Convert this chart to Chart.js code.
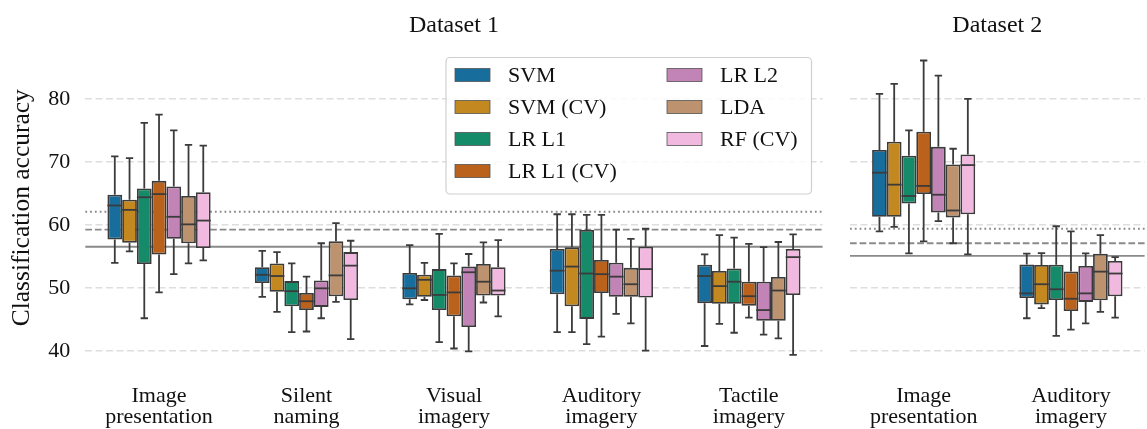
<!DOCTYPE html>
<html>
<head>
<meta charset="utf-8">
<script src="https://cdn.jsdelivr.net/npm/chart.js@4.4.1/dist/chart.umd.min.js"></script>
<style>
  html, body { margin: 0; padding: 0; background: #ffffff; }
  #wrap { position: relative; width: 1147px; height: 429px; overflow: hidden; }
  canvas { position: absolute; top: 0; }
</style>
</head>
<body>
<div id="wrap">
  <canvas id="panel1" width="832" height="429" style="left:0px"></canvas>
  <canvas id="panel2" width="307" height="429" style="left:840px"></canvas>
</div>
<script>
// Classifiers and their box colours
const methods = ['SVM', 'SVM (CV)', 'LR L1', 'LR L1 (CV)', 'LR L2', 'LDA', 'RF (CV)'];
const methodColors = ['#176d9c', '#c38820', '#168b6a', '#ba611b', '#c283b6', '#bd926e', '#f2b9e0'];

// Conditions per dataset
const categories1 = [['Image', 'presentation'], ['Silent', 'naming'], ['Visual', 'imagery'], ['Auditory', 'imagery'], ['Tactile', 'imagery']];
const categories2 = [['Image', 'presentation'], ['Auditory', 'imagery']];

const yTicks = [40, 50, 60, 70, 80];
const yRange = [37.07, 88.4];

// Dataset 1 box statistics: one row per classifier, one column per condition
const low1 = [
  [54.0, 48.6, 47.4, 43.0, 40.8],
  [55.8, 46.2, 48.1, 43.0, 44.3],
  [45.2, 43.0, 41.4, 41.1, 42.9],
  [49.3, 43.1, 40.4, 42.3, 45.3],
  [52.2, 45.2, 39.95, 45.9, 42.6],
  [53.9, 47.8, 47.7, 44.4, 42.0],
  [54.4, 41.9, 45.5, 40.05, 39.4]
];
const q1_1 = [
  [57.7, 50.8, 48.2, 49.0, 47.6],
  [57.2, 49.4, 48.6, 47.1, 47.5],
  [53.8, 47.1, 46.5, 45.1, 47.5],
  [55.3, 46.5, 45.5, 49.2, 47.2],
  [57.8, 47.0, 43.8, 48.6, 44.8],
  [57.1, 48.7, 48.8, 48.6, 44.8],
  [56.35, 48.1, 48.8, 48.5, 48.9]
];
const median1 = [
  [63.1, 52.1, 49.95, 52.75, 51.9],
  [62.4, 51.9, 51.3, 53.4, 50.3],
  [64.4, 49.5, 48.9, 52.3, 51.0],
  [64.9, 47.9, 49.3, 52.2, 48.7],
  [61.3, 49.95, 52.5, 51.8, 46.5],
  [60.1, 52.0, 51.0, 50.6, 49.6],
  [60.7, 53.55, 49.6, 53.0, 54.9]
];
const q3_1 = [
  [64.8, 53.3, 52.4, 56.2, 53.7],
  [64.0, 53.9, 52.1, 56.45, 52.7],
  [65.8, 51.1, 53.0, 59.2, 53.1],
  [67.0, 49.2, 52.0, 54.45, 51.0],
  [66.1, 51.2, 53.4, 54.0, 51.0],
  [64.6, 57.4, 53.8, 53.2, 51.75],
  [65.2, 55.7, 53.3, 56.55, 56.2]
];
const high1 = [
  [70.9, 55.9, 56.8, 61.7, 55.35],
  [70.6, 55.7, 54.0, 61.7, 58.4],
  [76.2, 53.9, 58.6, 61.6, 58.0],
  [77.5, 51.8, 53.9, 61.6, 57.0],
  [75.0, 57.1, 55.4, 59.25, 56.5],
  [72.7, 60.3, 57.25, 57.8, 57.3],
  [72.6, 57.5, 57.6, 59.4, 58.5]
];

// Dataset 2 box statistics
const low2 = [[59.0, 45.2], [59.7, 46.8], [55.5, 42.4], [57.4, 43.4], [60.6, 44.4], [57.1, 46.2], [55.35, 45.3]];
const q1_2 = [[61.3, 48.4], [61.3, 47.4], [63.4, 48.1], [64.9, 46.35], [62.0, 47.8], [61.2, 48.05], [61.7, 48.7]];
const median2 = [[68.3, 49.15], [66.4, 50.6], [64.6, 49.8], [66.2, 48.3], [64.8, 49.15], [62.3, 52.6], [69.5, 52.3]];
const q3_2 = [[71.9, 53.75], [73.2, 53.65], [71.0, 53.7], [74.8, 52.6], [72.4, 53.5], [69.6, 55.45], [71.2, 54.3]];
const high2 = [[80.8, 55.45], [82.4, 55.55], [75.0, 59.8], [86.1, 59.0], [83.7, 55.5], [72.1, 58.4], [80.0, 54.9]];

// Reference accuracy levels per dataset: solid, dashed, dotted
const refLevels1 = [56.55, 59.25, 62.1];
const refLevels2 = [55.1, 57.1, 59.4];

Chart.defaults.font.family = "'Liberation Serif', 'Times New Roman', serif";
Chart.defaults.color = '#111111';

const EDGE = '#3b3b3b';
const REF_STYLES = [[], [6.7, 2.9], [1.8, 3.0]];

// Horizontal reference lines behind the boxes
const refLinePlugin = {
  id: 'refLines',
  beforeDatasetsDraw(chart, args, opts) {
    const { ctx, chartArea } = chart;
    const y = chart.scales.y;
    ctx.save();
    ctx.strokeStyle = '#8a8a8a';
    ctx.lineWidth = 1.8;
    opts.levels.forEach((v, i) => {
      const py = y.getPixelForValue(v);
      ctx.setLineDash(REF_STYLES[i]);
      ctx.beginPath();
      ctx.moveTo(chartArea.left, py);
      ctx.lineTo(chartArea.right, py);
      ctx.stroke();
    });
    ctx.restore();
  }
};

// Whiskers, caps and median lines on top of the floating bars
const whiskerPlugin = {
  id: 'whiskers',
  afterDatasetsDraw(chart) {
    const { ctx } = chart;
    const y = chart.scales.y;
    ctx.save();
    ctx.strokeStyle = EDGE;
    ctx.lineWidth = 1.8;
    ctx.setLineDash([]);
    chart.data.datasets.forEach((ds, di) => {
      const meta = chart.getDatasetMeta(di);
      meta.data.forEach((bar, ci) => {
        const x = bar.x, w = bar.width;
        const lo = y.getPixelForValue(ds.stats.low[ci]);
        const hi = y.getPixelForValue(ds.stats.high[ci]);
        const b1 = y.getPixelForValue(ds.data[ci][0]);
        const b3 = y.getPixelForValue(ds.data[ci][1]);
        const md = y.getPixelForValue(ds.stats.median[ci]);
        ctx.beginPath();
        ctx.moveTo(x, b3); ctx.lineTo(x, hi);
        ctx.moveTo(x, b1); ctx.lineTo(x, lo);
        ctx.moveTo(x - w / 4, hi); ctx.lineTo(x + w / 4, hi);
        ctx.moveTo(x - w / 4, lo); ctx.lineTo(x + w / 4, lo);
        ctx.stroke();
        ctx.beginPath();
        ctx.moveTo(x - w / 2, md); ctx.lineTo(x + w / 2, md);
        ctx.stroke();
      });
    });
    ctx.restore();
  }
};

// Panel heading centred over the plotting area
const headingPlugin = {
  id: 'heading',
  afterDraw(chart, args, opts) {
    const { ctx, chartArea } = chart;
    ctx.save();
    ctx.font = "24px 'Liberation Serif', 'Times New Roman', serif";
    ctx.fillStyle = '#111111';
    ctx.textAlign = 'center';
    ctx.textBaseline = 'alphabetic';
    ctx.fillText(opts.text, (chartArea.left + chartArea.right) / 2, 32);
    ctx.restore();
  }
};

// Two-column legend box inside the first panel
const boxLegendPlugin = {
  id: 'boxLegend',
  afterDraw(chart, args, opts) {
    if (!opts.show) return;
    const { ctx } = chart;
    const fx = 446, fy = 57.5, fw = 365.5, fh = 136.5, r = 4;
    ctx.save();
    ctx.beginPath();
    ctx.moveTo(fx + r, fy);
    ctx.arcTo(fx + fw, fy, fx + fw, fy + fh, r);
    ctx.arcTo(fx + fw, fy + fh, fx, fy + fh, r);
    ctx.arcTo(fx, fy + fh, fx, fy, r);
    ctx.arcTo(fx, fy, fx + fw, fy, r);
    ctx.closePath();
    ctx.fillStyle = 'rgba(255,255,255,0.85)';
    ctx.fill();
    ctx.strokeStyle = '#cfcfcf';
    ctx.lineWidth = 1.2;
    ctx.stroke();
    ctx.font = "22px 'Liberation Serif', 'Times New Roman', serif";
    ctx.textBaseline = 'middle';
    ctx.textAlign = 'left';
    chart.data.datasets.forEach((ds, i) => {
      const col = i < 4 ? 0 : 1;
      const row = i < 4 ? i : i - 4;
      const sx = col === 0 ? 455 : 667;
      const cy = 75 + row * 32;
      ctx.fillStyle = ds.backgroundColor;
      ctx.fillRect(sx, cy - 6.5, 35, 13);
      ctx.strokeStyle = '#555555';
      ctx.lineWidth = 0.8;
      ctx.strokeRect(sx, cy - 6.5, 35, 13);
      ctx.fillStyle = '#111111';
      ctx.fillText(ds.label, sx + 53, cy + 1);
    });
    ctx.restore();
  }
};

function buildDatasets(q1, q3, low, median, high) {
  return methods.map((name, m) => ({
    label: name,
    data: q1[m].map((v, c) => [v, q3[m][c]]),
    stats: { low: low[m], median: median[m], high: high[m] },
    backgroundColor: methodColors[m],
    borderColor: EDGE,
    borderWidth: 1.8,
    borderSkipped: false,
    categoryPercentage: 0.7,
    barPercentage: 1.0
  }));
}

function makePanel(canvasId, cats, datasets, refLevels, heading, withAxis, axisWidth, rightPad, showLegend) {
  return new Chart(document.getElementById(canvasId), {
    type: 'bar',
    data: { labels: cats, datasets },
    options: {
      responsive: false,
      animation: false,
      devicePixelRatio: 1,
      events: [],
      layout: { padding: { top: 46, bottom: 0, left: 0, right: rightPad } },
      plugins: {
        legend: { display: false },
        tooltip: { enabled: false },
        refLines: { levels: refLevels },
        heading: { text: heading },
        boxLegend: { show: showLegend }
      },
      scales: {
        x: {
          grid: { display: false, drawTicks: false },
          border: { display: false },
          ticks: {
            color: '#111111',
            font: { size: 22, lineHeight: 0.955 },
            padding: 16,
            maxRotation: 0,
            autoSkip: false
          },
          afterFit: s => { s.height = 59.5; }
        },
        y: {
          min: yRange[0],
          max: yRange[1],
          afterBuildTicks: s => { s.ticks = yTicks.map(v => ({ value: v })); },
          afterFit: s => { s.width = axisWidth; },
          border: { display: false, dash: [7, 3.5] },
          grid: { color: '#dedede', lineWidth: 1.5, drawTicks: false, tickLength: 0 },
          ticks: { display: withAxis, padding: 15, color: '#111111', font: { size: 22 } },
          title: {
            display: withAxis,
            text: 'Classification accuracy',
            color: '#111111',
            font: { size: 25.5 },
            padding: { top: 6.5, bottom: 0 }
          }
        }
      }
    },
    plugins: [refLinePlugin, whiskerPlugin, headingPlugin, boxLegendPlugin]
  });
}

makePanel('panel1', categories1, buildDatasets(q1_1, q3_1, low1, median1, high1),
  refLevels1, 'Dataset 1', true, 85.3, 9.4, true);
makePanel('panel2', categories2, buildDatasets(q1_2, q3_2, low2, median2, high2),
  refLevels2, 'Dataset 2', false, 10, 2.4, false);
</script>
</body>
</html>
